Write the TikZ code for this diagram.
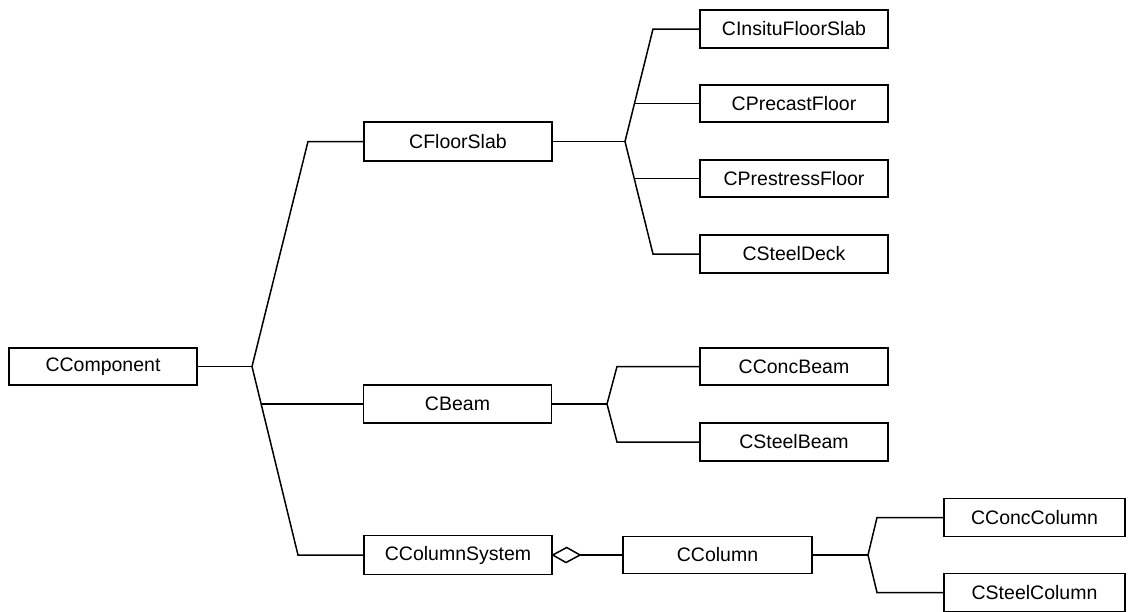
\documentclass[tikz,border=0pt]{standalone}
\usepackage{fontspec}
\setmainfont{Liberation Sans}
\usetikzlibrary{calc}
\begin{document}
\begin{tikzpicture}[x=1pt,y=-1pt,
  cls/.style={draw,line width=1.4pt,rectangle,minimum width=188pt,minimum height=38pt,inner sep=0pt,font=\fontsize{19.5}{22}\selectfont},
  link/.style={line width=1.5pt,line join=miter}]
\useasboundingbox (0,0) rectangle (1134,611);
% class boxes
\node[cls,minimum height=37pt] (comp) at (103,366.5) {CComponent};
\node[cls,minimum height=39pt] (floor) at (458,141.5) {CFloorSlab};
\node[cls] (beam) at (457.5,404) {CBeam};
\node[cls,minimum height=39pt] (colsys) at (458,555) {CColumnSystem};
\node[cls,minimum width=189pt,minimum height=37pt] (column) at (717.5,555) {CColumn};
\node[cls] (insitu) at (794,29) {CInsituFloorSlab};
\node[cls,minimum height=37pt] (precast) at (794,103.5) {CPrecastFloor};
\node[cls,minimum height=37pt] (prestress) at (794,178.5) {CPrestressFloor};
\node[cls] (deck) at (794,254) {CSteelDeck};
\node[cls,minimum height=37pt] (concbeam) at (794,366.5) {CConcBeam};
\node[cls] (steelbeam) at (794,442) {CSteelBeam};
\node[cls,minimum width=181pt] (conccol) at (1034.5,517.5) {CConcColumn};
\node[cls,minimum width=181pt] (steelcol) at (1034.5,592.5) {CSteelColumn};
% branch coordinates
\coordinate (t0) at (252,366.5);
\coordinate (ttop) at (308,141.5);
\coordinate (tbot) at (298,555);
\coordinate (tb) at (261.2,404);
\coordinate (f0) at (625,141.5);
\coordinate (ftop) at (653,29);
\coordinate (fbot) at (653,254);
\coordinate (fp) at (634.5,103.5);
\coordinate (fq) at (634.2,178.5);
\coordinate (b0) at (607,404);
\coordinate (btop) at (617,366.5);
\coordinate (bbot) at (617,442);
\coordinate (c0) at (868,555);
\coordinate (ctop) at (877,517.5);
\coordinate (cbot) at (877,592.5);
\coordinate (dtip) at (580,555);
% connectors
\draw[link] (comp.east) -- (t0);
\draw[link] (floor.west) -- (ttop) -- (t0) -- (tbot) -- (colsys.west);
\draw[link] (beam.west) -- (tb);
\draw[link] (floor.east) -- (f0);
\draw[link] (insitu.west) -- (ftop) -- (f0) -- (fbot) -- (deck.west);
\draw[link] (precast.west) -- (fp);
\draw[link] (prestress.west) -- (fq);
\draw[link] (beam.east) -- (b0);
\draw[link] (concbeam.west) -- (btop) -- (b0) -- (bbot) -- (steelbeam.west);
\draw[link] (column.east) -- (c0);
\draw[link] (conccol.west) -- (ctop) -- (c0) -- (cbot) -- (steelcol.west);
% aggregation diamond
\draw[link,fill=white] (colsys.east) -- ++(14,-7.5) -- (dtip) -- ++(-14,7.5) -- cycle;
\draw[link] (dtip) -- (column.west);
\end{tikzpicture}
\end{document}
